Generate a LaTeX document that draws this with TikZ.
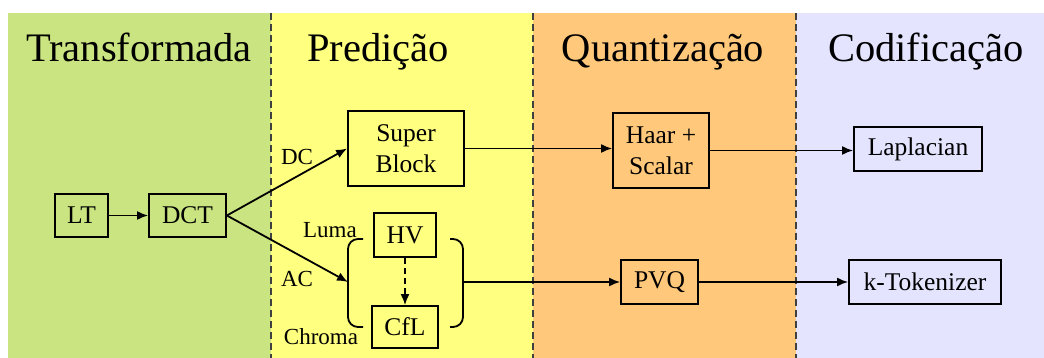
\documentclass[tikz,border=0pt]{standalone}
\usepackage{fontspec}
\setmainfont{Liberation Serif}
\usetikzlibrary{arrows.meta,positioning}
\definecolor{tfgreen}{RGB}{201,228,128}
\definecolor{pdyellow}{RGB}{255,255,128}
\definecolor{qzorange}{RGB}{255,200,122}
\definecolor{cdlav}{RGB}{228,228,255}
\tikzset{bx/.style={draw,line width=1.8pt,inner sep=0pt,align=center,font=\fontsize{25.5}{31}\selectfont},
 lbl/.style={font=\fontsize{23}{25}\selectfont},
 ttl/.style={anchor=base,font=\fontsize{40.5}{44}\selectfont},
 flow/.style={-{Latex[length=11pt,width=9pt]},line width=1.8pt},
 wire/.style={line width=1.8pt,rounded corners=10pt},
 sep/.style={draw=black!75,line width=1.3pt,dash pattern=on 7pt off 4pt}}
\begin{document}
\begin{tikzpicture}[x=1pt,y=-1pt]
\useasboundingbox (0,0) rectangle (1044,358);
% panels
\fill[tfgreen](8,13) rectangle (271,358);\fill[pdyellow](271,13) rectangle (533,358);
\fill[qzorange](533,13) rectangle (796,358);\fill[cdlav](796,13) rectangle (1044,358);
\draw[sep](271,13)--(271,358);\draw[sep](533,13)--(533,358);\draw[sep](796,13)--(796,358);
\node[ttl] at (139,62){Transformada};\node[ttl] at (378,62){Predição};
\node[ttl] at (663,62){Quantização};\node[ttl] at (926,62){Codificação};
% blocks
\node[bx,minimum width=53pt,minimum height=43pt](lt) at (81.5,215.5){LT};
\node[bx,minimum width=77pt,minimum height=43pt](dct) at (187.5,215.5){DCT};
\node[bx,minimum width=116pt,minimum height=75pt](sb) at (406,148.5){Super\\Block};
\node[bx,minimum width=62pt,minimum height=44pt](hv) at (405,235){HV};
\node[bx,minimum width=66pt,minimum height=42pt](cfl) at (405,327){CfL};
\node[bx,minimum width=96pt,minimum height=75pt](hs) at (661,150.5){Haar +\\Scalar};
\node[bx,minimum width=77pt,minimum height=44pt](pvq) at (659.5,282){PVQ};
\node[bx,minimum width=128pt,minimum height=44pt](lap) at (918,149){Laplacian};
\node[bx,minimum width=152pt,minimum height=44pt](ktok) at (925,282){k-Tokenizer};
% brackets round HV and CfL
\draw[wire](363,239)--(348,239)--(348,327)--(363,327);
\draw[wire](450,239)--(463,239)--(463,327)--(450,327);
\coordinate(bl) at (348,282);\coordinate(br) at (463,282);
% labels
\node[lbl] at (297,157){DC};\node[lbl] at (297,279){AC};
\node[lbl] at (330,230){Luma};\node[lbl] at (321,337){Chroma};
% connectors
\draw[flow](lt)--(dct);
\draw[flow](dct.east)--(sb.west);\draw[flow](dct.east)--(bl);
\draw[flow,dash pattern=on 6pt off 4pt](hv)--(cfl);
\draw[flow](sb.east)--(sb.east-|hs.west);\draw[flow](hs.east)--(hs.east-|lap.west);
\draw[flow](br)--(pvq.west);\draw[flow](pvq)--(ktok);
\end{tikzpicture}
\end{document}
